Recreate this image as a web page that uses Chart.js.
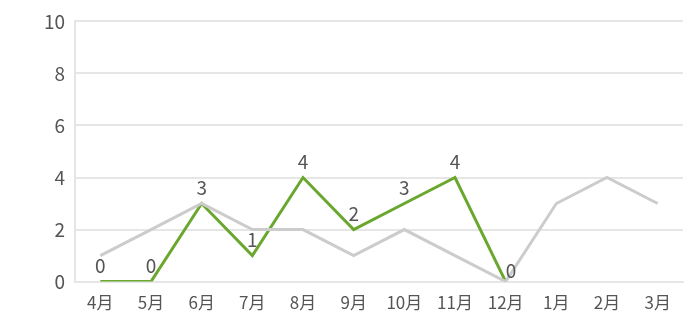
<!DOCTYPE html>
<html>
<head>
<meta charset="utf-8">
<script src="https://cdn.jsdelivr.net/npm/chart.js@4"></script>
<style>
  html, body { margin: 0; padding: 0; background: #fff; }
  #wrap { width: 685px; height: 330px; }
</style>
</head>
<body>
<div id="wrap"><canvas id="chart"></canvas></div>
<script>
const months = ['4月', '5月', '6月', '7月', '8月', '9月', '10月', '11月', '12月', '1月', '2月', '3月'];
const lastYear = [1, 2, 3, 2, 2, 1, 2, 1, 0, 3, 4, 3];
const thisYear = [0, 0, 3, 1, 4, 2, 3, 4, 0];
const yTicks = [0, 2, 4, 6, 8, 10];

const fontFamily = '"Noto Sans CJK JP", "Noto Sans", sans-serif';

// value labels above the green line
const pointLabels = {
  id: 'pointLabels',
  afterDatasetsDraw(chart) {
    const ctx = chart.ctx;
    const meta = chart.getDatasetMeta(1);
    ctx.save();
    ctx.font = '19px ' + fontFamily;
    ctx.fillStyle = '#555';
    ctx.textBaseline = 'bottom';
    meta.data.forEach((pt, i) => {
      const last = i === meta.data.length - 1;
      ctx.textAlign = last ? 'left' : 'center';
      const y = last ? pt.y - 1 : pt.y - 6;
      ctx.fillText(String(thisYear[i]), pt.x, y);
    });
    ctx.restore();
  }
};

new Chart(document.getElementById('chart'), {
  type: 'line',
  data: {
    labels: months,
    datasets: [
      {
        label: '前年',
        data: lastYear,
        borderColor: '#cccccc',
        borderWidth: 3,
        pointRadius: 0,
        tension: 0,
        fill: false
      },
      {
        label: '今年',
        data: thisYear,
        borderColor: '#6aa72e',
        borderWidth: 3,
        pointRadius: 0,
        tension: 0,
        fill: false
      }
    ]
  },
  options: {
    responsive: true,
    maintainAspectRatio: false,
    animation: false,
    layout: { padding: { top: 16, right: 2, left: 0, bottom: 6 } },
    plugins: {
      legend: { display: false },
      tooltip: { enabled: false }
    },
    scales: {
      x: {
        offset: true,
        grid: { display: false, drawTicks: false },
        border: { color: '#e6e6e6', width: 2 },
        ticks: {
          color: '#555',
          padding: 11,
          font: { family: fontFamily, size: 17 }
        }
      },
      y: {
        min: 0,
        max: 10,
        afterBuildTicks: (axis) => { axis.ticks = yTicks.map(v => ({ value: v })); },
        afterFit: (axis) => { axis.width = 75; },
        grid: { color: '#e6e6e6', lineWidth: 2, drawTicks: false },
        border: { color: '#e6e6e6', width: 2 },
        ticks: {
          color: '#555',
          padding: 10,
          font: { family: fontFamily, size: 19 }
        }
      }
    }
  },
  plugins: [pointLabels]
});
</script>
</body>
</html>
